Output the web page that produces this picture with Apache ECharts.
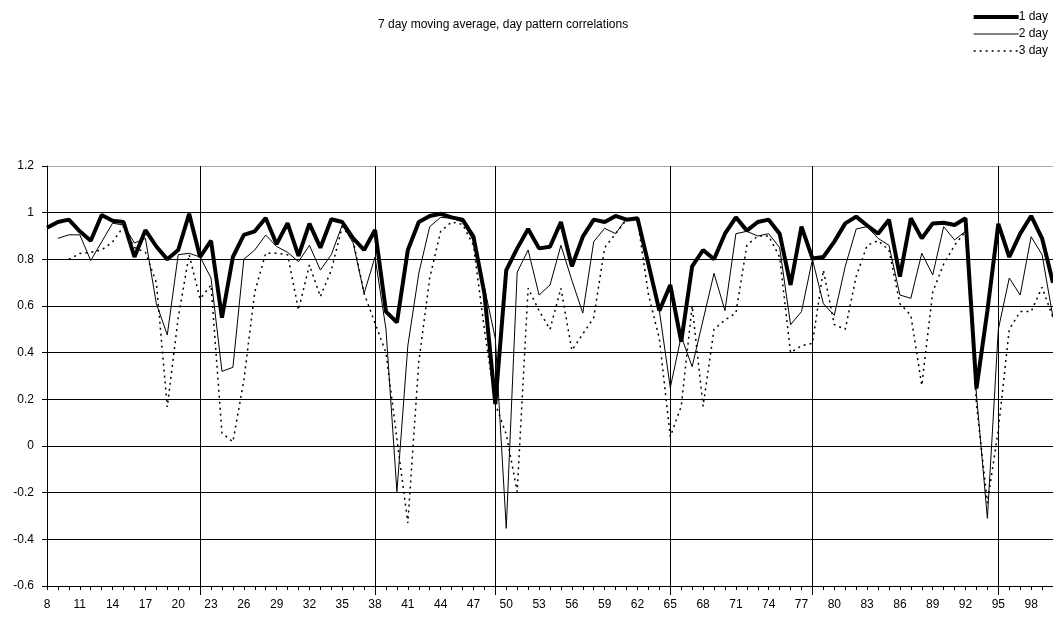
<!DOCTYPE html>
<html>
<head>
<meta charset="utf-8">
<script src="https://cdn.jsdelivr.net/npm/echarts@6/dist/echarts.min.js"></script>
<style>
html,body{margin:0;padding:0;background:#fff;}
#chart{width:1053px;height:621px;}
</style>
</head>
<body>
<div id="chart"></div>
<script>
// categories 8..100 (100 lies past the right edge of the picture)
const categories = [];
for (let c = 8; c <= 100; c++) categories.push(String(c));

const oneDay = [
0.935,0.96,0.97,0.92,0.88,0.99,0.965,0.96,0.81,0.925,
0.855,0.80,0.84,0.995,0.81,0.88,0.55,0.81,0.905,0.92,
0.977,0.865,0.955,0.815,0.953,0.85,0.972,0.96,0.89,0.84,
0.926,0.576,0.53,0.84,0.96,0.986,0.995,0.98,0.97,0.897,
0.654,0.18,0.754,0.847,0.93,0.847,0.854,0.96,0.77,0.897,
0.97,0.96,0.986,0.97,0.976,0.78,0.58,0.69,0.447,0.77,
0.84,0.80,0.91,0.98,0.923,0.96,0.97,0.91,0.69,0.94,
0.804,0.81,0.876,0.954,0.983,0.945,0.91,0.97,0.726,0.976,
0.89,0.954,0.957,0.947,0.976,0.247,0.58,0.952,0.81,0.91,
0.986,0.89,0.70
];

const twoDay = [
null,0.89,0.905,0.905,0.795,0.875,0.955,0.947,0.87,0.89,
0.61,0.476,0.82,0.826,0.81,0.72,0.32,0.337,0.80,0.84,
0.904,0.855,0.83,0.79,0.86,0.754,0.82,0.947,0.87,0.654,
0.81,0.5,-0.196,0.43,0.74,0.94,0.98,0.976,0.96,0.88,
0.68,0.46,-0.353,0.745,0.84,0.647,0.69,0.86,0.71,0.57,
0.876,0.933,0.91,0.976,0.97,0.79,0.58,0.25,0.47,0.34,
0.54,0.74,0.58,0.91,0.92,0.90,0.91,0.85,0.52,0.576,
0.80,0.61,0.56,0.77,0.93,0.94,0.89,0.86,0.647,0.633,
0.826,0.733,0.94,0.883,0.92,0.22,-0.31,0.5,0.72,0.647,
0.897,0.82,0.55
];

const threeDay = [
null,null,0.80,0.825,0.83,0.84,0.875,0.94,0.85,0.83,
0.70,0.167,0.55,0.82,0.63,0.69,0.055,0.018,0.28,0.66,
0.826,0.826,0.82,0.583,0.776,0.64,0.754,0.94,0.88,0.654,
0.526,0.40,0.03,-0.33,0.36,0.72,0.92,0.96,0.95,0.86,
0.5,0.18,0.05,-0.196,0.676,0.58,0.50,0.676,0.41,0.48,
0.55,0.85,0.91,0.97,0.97,0.65,0.46,0.04,0.17,0.6,
0.17,0.50,0.54,0.57,0.86,0.90,0.90,0.81,0.40,0.43,
0.44,0.754,0.52,0.50,0.726,0.86,0.88,0.84,0.61,0.56,
0.26,0.66,0.78,0.86,0.92,0.18,-0.245,0.07,0.50,0.576,
0.576,0.68,0.55
];

// categories that carry a vertical grid line
const vGridCats = ['22','38','49','65','78','95'];

const seriesNames = ['1 day','2 day','3 day'];
const titleText = '7 day moving average, day pattern correlations';

const font = 'Liberation Sans, Arial, sans-serif';
const isV = (idx, val) => vGridCats.indexOf(val) >= 0;

const chart = echarts.init(document.getElementById('chart'), null, {renderer:'canvas'});
chart.setOption({
  animation: false,
  backgroundColor: '#fff',
  title: {
    text: titleText,
    left: 373, top: 14,
    textStyle: {fontFamily: font, fontSize: 12, fontWeight: 'normal', color: '#000'}
  },
  legend: {
    data: [
      {name: seriesNames[0], lineStyle: {width: 4}},
      {name: seriesNames[1], lineStyle: {width: 1}},
      {name: seriesNames[2], lineStyle: {width: 1.5}}
    ],
    orient: 'vertical',
    right: 0, top: 6,
    itemWidth: 45, itemHeight: 10, itemGap: 5,
    itemStyle: {opacity: 0},
    textStyle: {fontFamily: font, fontSize: 12, color: '#000', padding: [0,0,0,-5]}
  },
  grid: {left: 47, right: -3, top: 166, bottom: 35, containLabel: false},
  xAxis: [{
    type: 'category',
    data: categories,
    boundaryGap: false,
    position: 'bottom',
    axisLine: {show: true, onZero: false, lineStyle: {color: '#000', width: 1}},
    axisTick: {show: true, interval: 0, length: 4, lineStyle: {color: '#000'}},
    axisLabel: {interval: 2, color: '#000', fontFamily: font, fontSize: 12, margin: 13},
    splitLine: {show: true, interval: isV, lineStyle: {color: '#000', width: 1}}
  }, {
    type: 'category',
    data: categories,
    boundaryGap: false,
    position: 'bottom',
    offset: 0,
    axisLine: {show: false, onZero: false},
    axisTick: {show: true, interval: isV, length: 9, lineStyle: {color: '#000'}},
    axisLabel: {show: false},
    splitLine: {show: false}
  }],
  yAxis: {
    type: 'value',
    min: -0.6, max: 1.2, interval: 0.2,
    axisLine: {show: true, lineStyle: {color: '#000'}},
    axisTick: {show: true, length: 5, lineStyle: {color: '#000'}},
    axisLabel: {color: '#000', fontFamily: font, fontSize: 12, margin: 13,
      formatter: v => String(Math.round(v * 10) / 10)},
    splitLine: {show: true, lineStyle: {color: ['#000','#000','#000','#000','#000','#000','#000','#000','#000','#aaa'], width: 1}}
  },
  series: [
    {name: seriesNames[0], type: 'line', data: oneDay, symbol: 'none', connectNulls: false,
     lineStyle: {color: '#000', width: 4}, itemStyle: {color: '#000'}, z: 5},
    {name: seriesNames[1], type: 'line', data: twoDay, symbol: 'none',
     lineStyle: {color: '#000', width: 1}, itemStyle: {color: '#000'}, z: 4},
    {name: seriesNames[2], type: 'line', data: threeDay, symbol: 'none',
     lineStyle: {color: '#000', width: 1.5, type: [2, 4]}, itemStyle: {color: '#000'}, z: 3}
  ]
});
</script>
</body>
</html>
